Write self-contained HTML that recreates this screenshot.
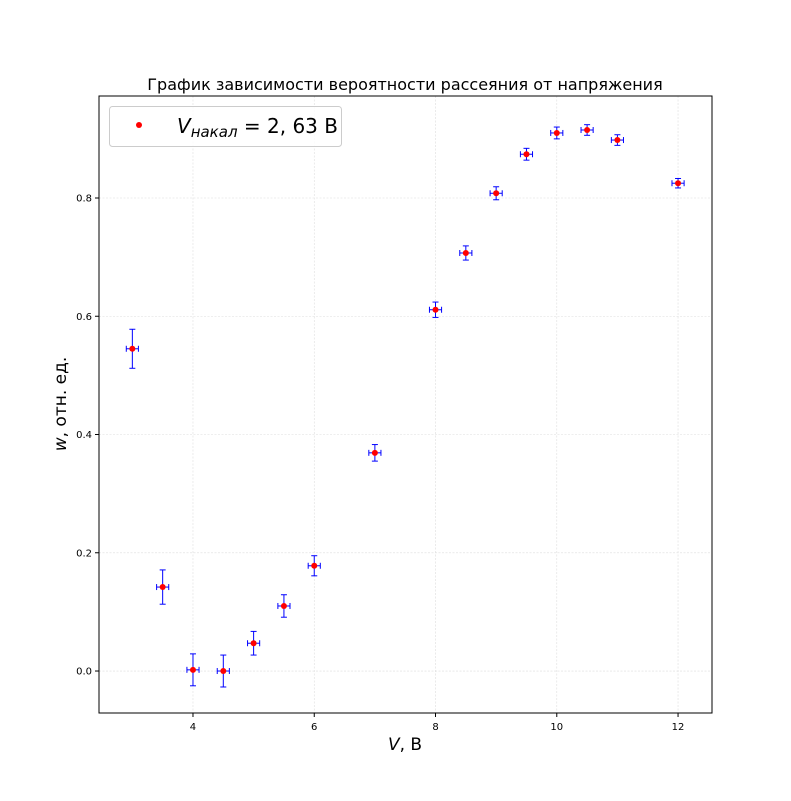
<!DOCTYPE html>
<html><head><meta charset="utf-8"><style>
body{margin:0;background:#fff;}
svg{display:block;font-family:"DejaVu Sans","Liberation Sans",sans-serif;}
</style></head><body>
<svg id="chart" width="791" height="801">
<rect width="791" height="801" fill="#fff"/>
<g id="grid"></g>
<g id="ticks"></g>
<g id="marks"></g>
<rect x="99" y="96" width="613" height="617" fill="none" stroke="#000" stroke-width="1"/>
<text x="405" y="90" font-size="16" text-anchor="middle">График зависимости вероятности рассеяния от напряжения</text>
<text x="405" y="750" font-size="17" text-anchor="middle"><tspan font-style="italic">V</tspan>, В</text>
<text transform="translate(66,404) rotate(-90)" font-size="17" text-anchor="middle"><tspan font-style="italic">w</tspan>, отн. ед.</text>
<g>
<rect x="109.5" y="106.5" width="232" height="40" rx="3" fill="#fff" fill-opacity="0.8" stroke="#ccc"/>
<circle cx="139" cy="125" r="3" fill="red"/>
<text x="177" y="133" font-size="20"><tspan font-style="italic">V</tspan><tspan font-style="italic" font-size="15" dy="4">накал</tspan><tspan dy="-4"> = 2, 63 В</tspan></text>
</g>
</svg>
<script>
const xVals=[3,3.5,4,4.5,5,5.5,6,7,8,8.5,9,9.5,10,10.5,11,12];
const yVals=[0.545,0.142,0.002,0.0,0.047,0.110,0.178,0.369,0.611,0.707,0.808,0.874,0.910,0.915,0.898,0.825];
const yErr=[0.033,0.029,0.027,0.027,0.020,0.019,0.017,0.014,0.013,0.012,0.011,0.010,0.010,0.009,0.009,0.008];
const xErr=[0.1,0.1,0.1,0.1,0.1,0.1,0.1,0.1,0.1,0.1,0.1,0.1,0.1,0.1,0.1,0.1];
const xTicks=[4,6,8,10,12];
const yTicks=[0.0,0.2,0.4,0.6,0.8];
const X0=99,X1=712,Y0=96,Y1=713,xmin=2.45,xmax=12.56,ymin=-0.071,ymax=0.9725;
const sx=v=>X0+(v-xmin)/(xmax-xmin)*(X1-X0);
const sy=v=>Y1-(v-ymin)/(ymax-ymin)*(Y1-Y0);
const NS="http://www.w3.org/2000/svg";
function mk(t,a,p){const e=document.createElementNS(NS,t);for(const k in a)e.setAttribute(k,a[k]);p.appendChild(e);return e;}
const grid=document.getElementById('grid'),ticks=document.getElementById('ticks'),marks=document.getElementById('marks');
xTicks.forEach(t=>{const x=sx(t);
 const g=mk('line',{x1:x,x2:x,y1:Y0,y2:Y1,stroke:'#ddd','stroke-width':0.6,'stroke-dasharray':'2,1.5'},grid);
 
 
 mk('line',{x1:x,x2:x,y1:Y1,y2:Y1+4,stroke:'#000'},ticks);
 const l=mk('text',{x:x,y:Y1+17,'font-size':10,'text-anchor':'middle'},ticks);l.textContent=t;
 
 
});
yTicks.forEach(t=>{const y=sy(t);
 const g=mk('line',{x1:X0,x2:X1,y1:y,y2:y,stroke:'#ddd','stroke-width':0.6,'stroke-dasharray':'2,1.5'},grid);
 
 
 mk('line',{x1:X0-4,x2:X0,y1:y,y2:y,stroke:'#000'},ticks);
 const l=mk('text',{x:X0-7,y:y+3.5,'font-size':10,'text-anchor':'end'},ticks);l.textContent=t.toFixed(1);
 
 
});
xVals.forEach((v,i)=>{const x=sx(v),y=sy(yVals[i]);
 const g=mk('g',{},marks);
 
 
 const yt=sy(yVals[i]+yErr[i]),yb=sy(yVals[i]-yErr[i]),xl=sx(v-xErr[i]),xr=sx(v+xErr[i]);
 const s={stroke:'blue','stroke-width':1};
 mk('line',Object.assign({x1:x,x2:x,y1:yt,y2:yb},s),g);
 mk('line',Object.assign({x1:x-3,x2:x+3,y1:yt,y2:yt},s),g);
 mk('line',Object.assign({x1:x-3,x2:x+3,y1:yb,y2:yb},s),g);
 mk('line',Object.assign({x1:xl,x2:xr,y1:y,y2:y},s),g);
 mk('line',Object.assign({x1:xl,x2:xl,y1:y-3,y2:y+3},s),g);
 mk('line',Object.assign({x1:xr,x2:xr,y1:y-3,y2:y+3},s),g);
 mk('circle',{cx:x,cy:y,r:3,fill:'red'},g);
});
</script>
</body></html>
